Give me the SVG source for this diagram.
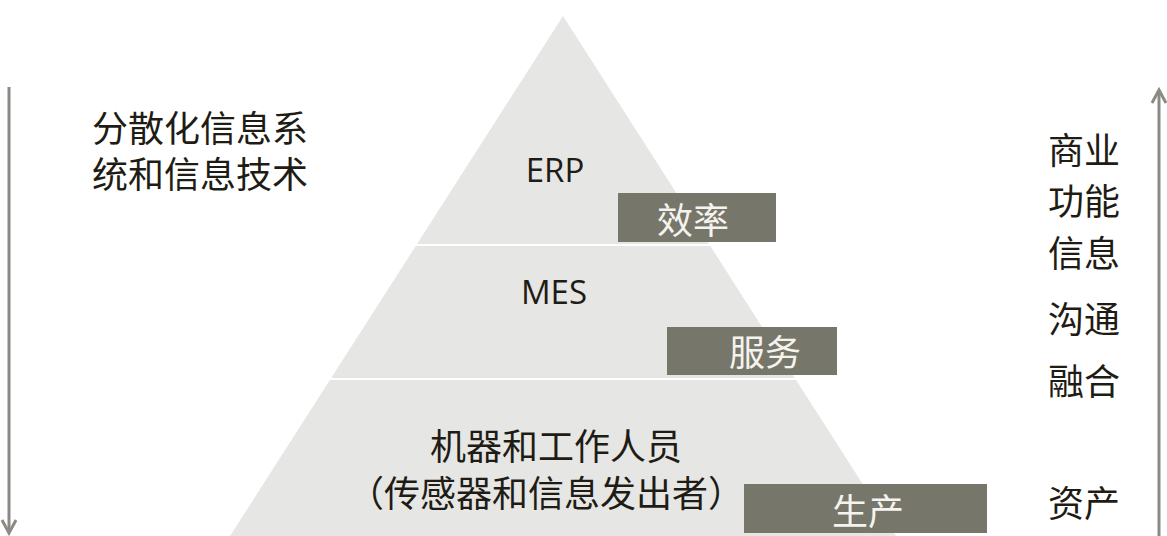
<svg xmlns="http://www.w3.org/2000/svg" width="1167" height="536" viewBox="0 0 1167 536">
<style>
.band{fill:#e6e6e5}
.tag{fill:#77766a}
.tagt{font-family:"Noto Sans CJK SC",sans-serif;font-size:36px;fill:#f5f3ee;text-anchor:middle}
.lat{font-family:"Open Sans","Noto Sans",sans-serif;font-size:33px;fill:#1e1c14;text-anchor:middle}
.cjk{font-family:"Noto Sans CJK SC",sans-serif;font-size:36px;fill:#1e1c14}
.arr{stroke:#8b8a84;stroke-width:3;fill:none}
</style>
<rect width="1167" height="536" fill="#ffffff"/>
<g id="connectors">
<line class="arr" x1="9" y1="87" x2="9" y2="533"/>
<polyline class="arr" points="2,520 9,533 16,520"/>
<line class="arr" x1="1159" y1="90" x2="1159" y2="536"/>
<polyline class="arr" points="1152,103 1159,90 1166,103"/>
</g>
<g id="erp">
<polygon class="band" points="563,16 709,244 417,244"/>
<text class="lat" x="555" y="182">ERP</text>
</g>
<g id="mes">
<polygon class="band" points="415.7,246 710.3,246 794.8,378 331.2,378"/>
<text class="lat" x="554" y="304">MES</text>
</g>
<g id="machines">
<polygon class="band" points="329.9,380 796.1,380 896,536 230,536"/>
<text class="cjk" x="556" y="460" text-anchor="middle">机器和工作人员</text>
<text class="cjk" x="546" y="507" text-anchor="middle">（传感器和信息发出者）</text>
</g>
<g id="efficiency">
<rect class="tag" x="618" y="193" width="158" height="49"/>
<text class="tagt" x="693" y="234">效率</text>
</g>
<g id="service">
<rect class="tag" x="667" y="327" width="170" height="48"/>
<text class="tagt" x="765" y="366">服务</text>
</g>
<g id="production">
<rect class="tag" x="744" y="484" width="243" height="49"/>
<text class="tagt" x="868" y="525">生产</text>
</g>
<g id="left-label">
<text class="cjk" x="92" y="142" font-size="37">分散化信息系</text>
<text class="cjk" x="92" y="188" font-size="37">统和信息技术</text>
</g>
<g id="right-labels">
<text class="cjk" x="1048" y="164">商业</text>
<text class="cjk" x="1048" y="215">功能</text>
<text class="cjk" x="1048" y="267">信息</text>
<text class="cjk" x="1048" y="333">沟通</text>
<text class="cjk" x="1048" y="395">融合</text>
<text class="cjk" x="1048" y="517">资产</text>
</g>
</svg>
